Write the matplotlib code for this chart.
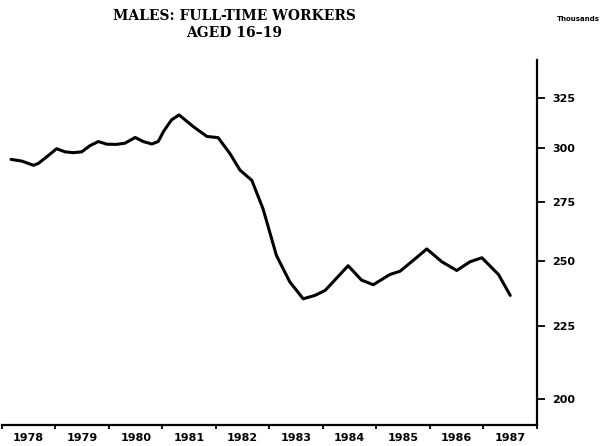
import numpy as np
import matplotlib.pyplot as plt
from matplotlib.ticker import FixedLocator, NullFormatter, NullLocator

# values (thousands), time in years
t = [1978.17, 1978.37, 1978.59, 1978.68, 1978.84, 1979.02, 1979.18, 1979.33,
     1979.49, 1979.64, 1979.80, 1979.96, 1980.14, 1980.30, 1980.49, 1980.64,
     1980.80, 1980.92, 1981.02, 1981.17, 1981.31, 1981.58, 1981.83, 1982.04,
     1982.26, 1982.45, 1982.67, 1982.88, 1983.13, 1983.38, 1983.63, 1983.85,
     1984.04, 1984.22, 1984.47, 1984.72, 1984.94, 1985.25, 1985.44, 1985.69,
     1985.94, 1986.22, 1986.50, 1986.75, 1986.97, 1987.28, 1987.50]
workers = [294.4, 293.6, 291.6, 292.5, 295.7, 299.5, 298.0, 297.6,
           298.0, 300.9, 303.0, 301.7, 301.6, 302.2, 305.0, 303.0,
           301.8, 303.0, 308.0, 313.8, 316.3, 310.3, 305.5, 304.9,
           297.2, 289.3, 284.6, 271.8, 252.1, 241.6, 235.1, 236.4,
           238.3, 242.3, 248.0, 242.3, 240.5, 244.5, 245.8, 250.2,
           254.8, 249.6, 246.1, 249.6, 251.2, 244.5, 236.4]

years = list(range(1978, 1988))
yticks = [200, 225, 250, 275, 300, 325]

fig = plt.figure(figsize=(6.01, 4.46), dpi=100)
ax = fig.add_axes([0.0033, 0.0471, 0.8902, 0.8184])

ax.plot(t, workers, color='black', lw=2.2, solid_capstyle='round',
        solid_joinstyle='round')

ax.set_yscale('log')
ax.set_xlim(1978, 1988)
ax.set_ylim(191.8, 345.6)

for s in ['left', 'top']:
    ax.spines[s].set_visible(False)
ax.spines['right'].set_linewidth(1.6)
ax.spines['bottom'].set_linewidth(1.6)

# y axis on the right
ax.yaxis.tick_right()
ax.yaxis.set_major_locator(FixedLocator(yticks))
ax.yaxis.set_minor_locator(NullLocator())
ax.set_yticklabels([str(v) for v in yticks])
ax.tick_params(axis='y', direction='out', length=6, width=1.3, pad=5,
               labelsize=8)

# x axis: ticks at year boundaries, labels centred in each year
ax.xaxis.set_major_locator(FixedLocator(years + [1988]))
ax.xaxis.set_major_formatter(NullFormatter())
ax.xaxis.set_minor_locator(FixedLocator([y + 0.5 for y in years]))
ax.set_xticklabels([str(y) for y in years], minor=True)
ax.tick_params(axis='x', which='major', direction='out', length=3, width=1.3)
ax.tick_params(axis='x', which='minor', length=0, pad=6, labelsize=8)

for lab in ax.get_xticklabels(minor=True) + ax.get_yticklabels():
    lab.set_fontweight('bold')

fig.text(0.39, 0.945, 'MALES: FULL-TIME WORKERS\nAGED 16\u201319',
         ha='center', va='center', fontsize=10, fontweight='bold',
         family='DejaVu Serif', linespacing=1.3)
fig.text(0.963, 0.958, 'Thousands', ha='center', va='center',
         fontsize=5, fontweight='bold')

fig.savefig('out.png', dpi=100)
